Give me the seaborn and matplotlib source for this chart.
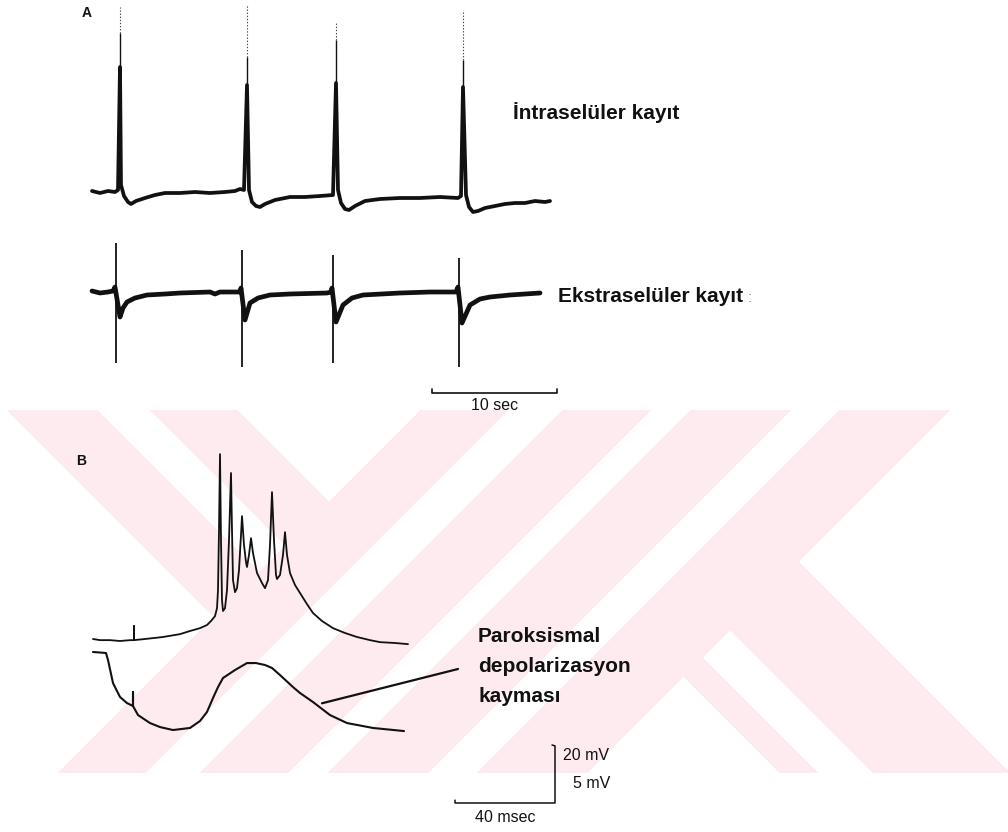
import numpy as np
import pandas as pd
import matplotlib
matplotlib.use("Agg")
import matplotlib.pyplot as plt
import seaborn as sns

sns.set_style("white")
plt.rcParams["font.family"] = ["Liberation Sans", "DejaVu Sans"]

# ---------------------------------------------------------------
# A - intracellular recording (time in s, membrane potential in mV)
# ---------------------------------------------------------------
intra_t = [0.00, 0.64, 1.28, 1.84, 2.08, 2.24, 2.32, 2.56, 2.88, 3.12, 3.52, 4.24,
           5.04, 5.84, 7.04, 8.24, 9.44, 10.64, 11.44, 11.84, 12.16, 12.40, 12.56,
           12.80, 13.12, 13.44, 13.84, 14.64, 15.84, 17.04, 18.24, 19.28, 19.52,
           19.68, 19.92, 20.24, 20.56, 21.04, 21.84, 23.04, 24.64, 26.24, 27.84,
           29.28, 29.52, 29.68, 29.92, 30.16, 30.48, 30.88, 31.44, 32.24, 33.04,
           33.84, 34.64, 35.44, 36.24, 36.64]
intra_v = [-69.5, -70.5, -69.5, -70.0, -69.0, -7.5, -66.5, -72.0, -75.0, -76.0, -74.5,
           -73.0, -71.5, -70.5, -70.5, -70.0, -70.5, -70.0, -69.5, -68.5, -69.0, -16.5,
           -69.0, -75.0, -77.0, -77.5, -76.0, -74.0, -72.5, -72.5, -72.0, -71.5, -15.5,
           -69.0, -75.5, -78.5, -79.0, -77.0, -74.5, -73.5, -73.0, -73.0, -72.5, -73.0,
           -72.0, -17.5, -71.5, -77.5, -80.0, -79.5, -78.0, -77.0, -76.0, -75.5, -75.5,
           -74.5, -75.0, -74.5]

# action potential tips above the dense part of each spike
spike_t = [2.24, 12.40, 19.52, 29.68]
spike_body_top = [-7.5, -16.5, -15.5, -17.5]
spike_solid_top = [9.5, -2.5, 6.0, -4.0]
spike_tip = [22.5, 23.5, 14.5, 21.0]

# ---------------------------------------------------------------
# A - extracellular recording (time in s, field potential in mV)
# ---------------------------------------------------------------
ext_t = [0.00, 0.64, 1.28, 1.68, 1.84, 2.24, 2.48, 2.80, 3.44, 4.40, 5.84, 7.04,
         9.44, 9.84, 10.24, 11.84, 11.92, 12.24, 12.64, 13.28, 14.24, 15.84, 18.80,
         19.12, 19.20, 19.52, 20.08, 20.80, 21.68, 24.64, 27.04, 29.12, 29.28, 29.60,
         30.24, 31.04, 31.84, 33.44, 35.84]
ext_v = [0.01, -0.01, 0.00, 0.01, 0.05, -0.25, -0.16, -0.10, -0.06, -0.03, -0.02,
         -0.01, 0.00, -0.02, 0.00, 0.00, 0.04, -0.28, -0.11, -0.06, -0.03, -0.02,
         -0.01, 0.00, 0.04, -0.30, -0.13, -0.06, -0.03, -0.01, 0.00, 0.00, 0.05,
         -0.31, -0.13, -0.07, -0.05, -0.03, -0.01]

ext_spike_t = [1.92, 12.00, 19.28, 29.36]
ext_spike_peak = [0.49, 0.42, 0.37, 0.34]
ext_spike_trough = [-0.71, -0.75, -0.71, -0.75]

# ---------------------------------------------------------------
# B - paroxysmal depolarization shift (time in ms)
# ---------------------------------------------------------------
pds_t = [0.0, 2.8, 6.8, 10.8, 14.8, 16.4, 16.4, 16.4, 20.8, 28.0, 34.8, 38.8, 42.8,
         45.6, 47.2, 48.8, 49.6, 50.0, 50.4, 50.8, 51.2, 51.6, 52.0, 52.8, 53.6, 54.4,
         55.2, 55.6, 56.0, 56.8, 57.6, 58.4, 59.2, 59.6, 60.4, 61.2, 61.6, 62.4, 63.2,
         64.0, 65.6, 67.6, 68.8, 70.0, 70.8, 71.6, 72.4, 73.2, 73.6, 74.8, 76.0, 76.8,
         77.6, 78.8, 80.8, 82.8, 85.6, 88.0, 91.6, 96.0, 100.8, 105.6, 110.8, 114.8,
         120.8, 126.0]
pds_v = [-65.0, -65.4, -65.4, -65.7, -65.4, -65.4, -60.5, -65.4, -65.0, -64.3, -63.3,
         -62.2, -61.2, -60.1, -58.7, -57.0, -54.2, -47.9, -26.9, -0.3, -30.4, -51.4,
         -55.2, -54.2, -47.9, -30.4, -6.9, -26.9, -44.4, -48.6, -47.2, -40.9, -28.6,
         -22.0, -32.1, -38.1, -39.8, -35.6, -29.7, -34.9, -41.9, -45.4, -47.2, -44.4,
         -32.1, -13.6, -30.4, -42.6, -44.0, -42.6, -35.6, -27.6, -35.6, -41.9, -46.1,
         -48.9, -52.8, -55.9, -58.7, -61.2, -62.9, -64.3, -65.4, -66.1, -66.4, -66.8]

# lower trace (time in ms, mV relative to rest)
field_t = [0.0, 5.2, 6.0, 8.0, 10.8, 13.6, 16.0, 16.0, 16.0, 18.0, 22.8, 26.8, 32.0,
           38.8, 42.8, 45.6, 48.0, 50.0, 52.0, 56.8, 61.6, 65.2, 68.8, 71.6, 74.8,
           80.0, 82.8, 88.0, 94.8, 101.6, 112.0, 124.4]
field_v = [0.09, 0.00, -0.61, -2.63, -3.85, -4.38, -4.64, -3.41, -4.64, -5.43, -6.13,
           -6.48, -6.74, -6.56, -5.95, -5.16, -3.94, -2.98, -2.19, -1.49, -0.88, -0.88,
           -1.05, -1.31, -1.93, -2.98, -3.50, -4.29, -5.43, -6.13, -6.56, -6.83]

# pointer from the label to the shift
pointer_t = [91.6, 146.0]
pointer_v = [-4.4, -1.4]

# calibration bars
A_bar_s = 10
B_bar_ms = 40
B_bar_mV_upper = 20
B_bar_mV_lower = 5

# ---------------------------------------------------------------
W, H = 1008, 832
fig = plt.figure(figsize=(W / 100, H / 100), dpi=100)
fig.patch.set_facecolor("white")


def px_axes(label, x_px0, x_val0, px_per_x, y_px0, y_val0, px_per_y, z):
    """Full-figure axes whose data units land on the given pixel grid."""
    ax = fig.add_axes([0, 0, 1, 1], label=label, zorder=z)
    ax.set_axis_off()
    ax.patch.set_alpha(0)
    ax.set_xlim(x_val0 - x_px0 / px_per_x, x_val0 + (W - x_px0) / px_per_x)
    ax.set_ylim(y_val0 - (H - y_px0) / px_per_y, y_val0 + y_px0 / px_per_y)
    return ax


# background watermark band made of diagonal bars
bg = fig.add_axes([0, 0, 1, 1], label="bg", zorder=0)
bg.set_axis_off()
yy, xx = np.mgrid[0:H, 0:W] + 0.5
u = xx + yy
v = xx - yy
band = (yy >= 410) & (yy <= 773)
s1 = (v >= -403) & (v <= -313) & (u < 831)
s2 = (v >= -260) & (v <= -173) & (u < 831)
slash = ((u >= 831) & (u <= 1360)
         & ~((u > 918) & (u < 973))
         & ~((u > 1061) & (u < 1101))
         & ~((u > 1201) & (u < 1250)))
leg_inner = (u > 1360) & (v >= 7) & (v <= 45)
leg_outer = (u > 1360) & (v >= 100) & (v <= 237)
mask = band & (s1 | s2 | slash | leg_inner | leg_outer)
img = np.ones((H, W, 3))
img[mask] = np.array([253, 235, 239]) / 255
bg.imshow(img, extent=(0, W, H, 0), interpolation="nearest", aspect="auto")
bg.set_xlim(0, W)
bg.set_ylim(H, 0)

ink = "#111111"

# ---- A intracellular
axA1 = px_axes("A_intra", 92, 0.0, 12.5, 192, -70.0, 2.0, 2)
sns.lineplot(x=intra_t, y=intra_v, ax=axA1, sort=False, estimator=None,
             color=ink, lw=2.7)
axA1.vlines(spike_t, spike_body_top, spike_solid_top, color=ink, lw=1.0)
axA1.vlines(spike_t, spike_solid_top, spike_tip, color="#444444", lw=0.8,
            linestyles=(0, (1.2, 1.6)))

# ---- A extracellular
axA2 = px_axes("A_extra", 92, 0.0, 12.5, 292, 0.0, 100.0, 3)
sns.lineplot(x=ext_t, y=ext_v, ax=axA2, sort=False, estimator=None,
             color=ink, lw=3.4)
axA2.vlines(ext_spike_t, ext_spike_trough, ext_spike_peak, color=ink, lw=1.3)
# 10 sec bar
bar_y = -1.01
bar_x0 = 27.2
axA2.plot([bar_x0, bar_x0, bar_x0 + A_bar_s, bar_x0 + A_bar_s],
          [bar_y + 0.04, bar_y, bar_y, bar_y + 0.04], color=ink, lw=1.2)

# ---- B upper trace
axB1 = px_axes("B_pds", 93, 0.0, 2.5, 639, -65.0, 1 / 0.35, 4)
sns.lineplot(x=pds_t, y=pds_v, ax=axB1, sort=False, estimator=None,
             color=ink, lw=1.3)
# calibration
cx, cy = 184.8, -122.4
axB1.plot([cx - B_bar_ms, cx - B_bar_ms, cx, cx, cx - 1.2],
          [cy + 1.0, cy, cy, cy + B_bar_mV_upper, cy + B_bar_mV_upper + 0.3],
          color=ink, lw=1.1)

# ---- B lower trace
axB2 = px_axes("B_field", 93, 0.0, 2.5, 653, 0.0, 1 / 0.0875, 5)
sns.lineplot(x=field_t, y=field_v, ax=axB2, sort=False, estimator=None,
             color=ink, lw=1.5)
sns.lineplot(x=pointer_t, y=pointer_v, ax=axB2, sort=False, estimator=None,
             color=ink, lw=1.6)


def ftext(x, y, s, **kw):
    kw.setdefault("color", ink)
    fig.text(x / W, 1 - y / H, s, zorder=10, **kw)


bold = dict(fontweight="bold", fontsize=15, va="center", ha="left")
ftext(82, 13, "A", fontweight="bold", fontsize=10, va="center", ha="left")
ftext(513, 113, "İntraselüler kayıt", **bold)
ftext(558, 296, "Ekstraselüler kayıt", **bold)
ftext(748, 298, ":", fontsize=11, color="#888888", va="center", ha="left")
ftext(495, 406, "10 sec", fontsize=11.5, va="center", ha="center")

ftext(76, 461, "B", fontweight="bold", fontsize=10, va="center", ha="left")
ftext(478, 636, "Paroksismal", **bold)
ftext(478, 667, "depolarizasyon", **bold)
ftext(478, 697, "kayması", **bold)
ftext(563, 755, "20 mV", fontsize=11.5, va="center", ha="left")
ftext(573, 783, "5 mV", fontsize=11.5, va="center", ha="left")
ftext(505, 818, "40 msec", fontsize=11.5, va="center", ha="center")

fig.savefig("out.png", dpi=100, facecolor="white")
